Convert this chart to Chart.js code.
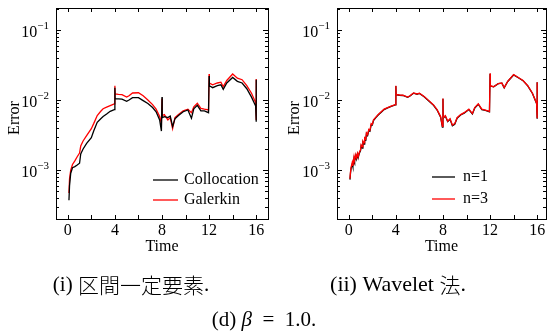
<!DOCTYPE html>
<html>
<head>
<meta charset="utf-8">
<script src="https://cdn.jsdelivr.net/npm/chart.js@4.4.1/dist/chart.umd.min.js"></script>
<style>
  body { margin: 0; background: #fff; width: 547px; height: 336px; position: relative; overflow: hidden; }
  canvas { position: absolute; }
</style>
</head>
<body>
<canvas id="left" width="275" height="260" style="left:0; top:0"></canvas>
<canvas id="right" width="267" height="260" style="left:280px; top:0"></canvas>
<canvas id="captions" width="547" height="76" style="left:0; top:260px"></canvas>
<script>
// x tick labels and y decades
const xTicks = [0, 4, 8, 12, 16];
const xMinor = [0, 2, 4, 6, 8, 10, 12, 14, 16];
const yDecades = [-4, -3, -2, -1];

// (i) piecewise-constant elements
const timeA = [0.1, 0.15, 0.25, 0.4, 0.6, 0.8, 1.0, 1.1, 1.3, 1.6, 2.0, 2.2, 2.5, 2.8, 3.0, 3.3, 3.6, 3.95,
  4.0, 4.02, 4.3, 4.6, 5.0, 5.2, 5.5, 6.0, 6.4, 6.8, 7.2, 7.5, 7.8, 7.95,
  8.0, 8.02, 8.2, 8.5, 8.7, 8.9, 9.1, 9.4, 9.8, 10.2, 10.5, 10.7, 11.0, 11.3, 11.6, 11.95,
  12.0, 12.02, 12.3, 12.7, 13.0, 13.2, 13.5, 14.0, 14.4, 14.8, 15.2, 15.6, 15.95, 16.0, 16.0];
const collocation = [3.7e-4, 6.0e-4, 9.0e-4, 1.08e-3, 1.12e-3, 1.18e-3, 1.25e-3, 1.7e-3, 2.0e-3, 2.4e-3, 2.9e-3, 3.6e-3, 4.8e-3, 5.4e-3, 5.8e-3, 6.3e-3, 6.9e-3, 7.3e-3,
  1.5e-2, 1.05e-2, 1.04e-2, 1.03e-2, 9.6e-3, 1.0e-2, 1.08e-2, 1.08e-2, 9.8e-3, 8.9e-3, 7.8e-3, 6.8e-3, 5.2e-3, 3.6e-3,
  1.1e-2, 5.6e-3, 5.8e-3, 5.6e-3, 5.9e-3, 4.2e-3, 5.4e-3, 6.0e-3, 6.8e-3, 7.2e-3, 5.5e-3, 7.5e-3, 8.4e-3, 7.0e-3, 7.0e-3, 6.6e-3,
  2.2e-2, 1.6e-2, 1.5e-2, 1.6e-2, 1.65e-2, 1.42e-2, 1.75e-2, 2.1e-2, 1.85e-2, 1.75e-2, 1.45e-2, 1.1e-2, 8.2e-3, 4.9e-3, 1.95e-2];
const galerkin = [4.7e-4, 7.5e-4, 1.0e-3, 1.2e-3, 1.35e-3, 1.55e-3, 1.75e-3, 2.2e-3, 2.6e-3, 3.1e-3, 3.9e-3, 4.6e-3, 6.0e-3, 6.9e-3, 7.5e-3, 7.9e-3, 8.3e-3, 8.8e-3,
  1.6e-2, 1.22e-2, 1.2e-2, 1.19e-2, 1.1e-2, 1.15e-2, 1.26e-2, 1.27e-2, 1.15e-2, 1.0e-2, 8.6e-3, 7.4e-3, 5.8e-3, 4.6e-3,
  1.05e-2, 6.0e-3, 6.2e-3, 5.2e-3, 5.6e-3, 3.9e-3, 5.6e-3, 6.2e-3, 7.0e-3, 7.4e-3, 6.6e-3, 8.0e-3, 9.0e-3, 7.6e-3, 7.4e-3, 7.2e-3,
  2.35e-2, 1.75e-2, 1.65e-2, 1.75e-2, 1.8e-2, 1.55e-2, 1.9e-2, 2.35e-2, 2.05e-2, 1.95e-2, 1.6e-2, 1.25e-2, 9.2e-3, 5.2e-3, 2.0e-2];

// (ii) wavelet method
const timeB = [0.1, 0.15, 0.2, 0.3, 0.35, 0.45, 0.5, 0.6, 0.65, 0.75, 0.8, 0.9, 1.0, 1.05, 1.15, 1.2, 1.3, 1.35, 1.45, 1.5,
  1.6, 1.7, 1.8, 1.9, 2.0, 2.1, 2.3, 2.5, 2.8, 3.0, 3.3, 3.6, 3.95,
  4.0, 4.02, 4.3, 4.6, 5.0, 5.2, 5.5, 5.8, 6.0, 6.4, 6.8, 7.2, 7.5, 7.8, 7.95,
  8.0, 8.02, 8.2, 8.4, 8.6, 8.8, 9.0, 9.2, 9.5, 9.8, 10.2, 10.5, 10.7, 11.0, 11.3, 11.6, 11.95,
  12.0, 12.02, 12.3, 12.7, 13.0, 13.2, 13.5, 14.0, 14.4, 14.8, 15.2, 15.6, 15.95, 16.0, 16.0];
const n1 = [7.3e-4, 9.2e-4, 1.06e-3, 1.22e-3, 1.12e-3, 1.48e-3, 1.36e-3, 1.6e-3, 1.44e-3, 1.68e-3, 1.5e-3, 1.74e-3, 1.9e-3, 2.2e-3, 2.05e-3, 2.5e-3, 2.35e-3, 2.8e-3, 2.7e-3, 3.3e-3,
  3.1e-3, 3.7e-3, 3.6e-3, 4.4e-3, 4.4e-3, 5.1e-3, 5.6e-3, 6.1e-3, 6.8e-3, 7.3e-3, 7.7e-3, 8.1e-3, 8.5e-3,
  1.58e-2, 1.19e-2, 1.17e-2, 1.16e-2, 1.09e-2, 1.14e-2, 1.25e-2, 1.21e-2, 1.24e-2, 1.11e-2, 9.7e-3, 8.4e-3, 7.2e-3, 5.7e-3, 4.1e-3,
  1.04e-2, 5.5e-3, 5.9e-3, 4.9e-3, 5.3e-3, 4.3e-3, 4.5e-3, 5.5e-3, 6.1e-3, 6.5e-3, 7.3e-3, 6.3e-3, 7.7e-3, 8.7e-3, 7.3e-3, 7.1e-3, 6.8e-3,
  2.38e-2, 1.58e-2, 1.54e-2, 1.71e-2, 1.74e-2, 1.49e-2, 1.84e-2, 2.28e-2, 2.08e-2, 1.89e-2, 1.59e-2, 1.24e-2, 8.9e-3, 5.4e-3, 1.8e-2];
const n3 = [7.5e-4, 9.5e-4, 1.1e-3, 1.3e-3, 1.15e-3, 1.55e-3, 1.4e-3, 1.65e-3, 1.5e-3, 1.72e-3, 1.55e-3, 1.8e-3, 1.95e-3, 2.3e-3, 2.15e-3, 2.6e-3, 2.45e-3, 2.9e-3, 2.8e-3, 3.4e-3,
  3.2e-3, 3.8e-3, 3.7e-3, 4.6e-3, 4.5e-3, 5.2e-3, 5.7e-3, 6.2e-3, 6.9e-3, 7.4e-3, 7.8e-3, 8.2e-3, 8.6e-3,
  1.6e-2, 1.2e-2, 1.18e-2, 1.17e-2, 1.1e-2, 1.15e-2, 1.26e-2, 1.22e-2, 1.25e-2, 1.12e-2, 9.8e-3, 8.5e-3, 7.3e-3, 5.8e-3, 4.2e-3,
  1.05e-2, 5.6e-3, 6.0e-3, 5.0e-3, 5.4e-3, 4.4e-3, 4.6e-3, 5.6e-3, 6.2e-3, 6.6e-3, 7.4e-3, 6.4e-3, 7.8e-3, 8.8e-3, 7.4e-3, 7.2e-3, 6.9e-3,
  2.4e-2, 1.6e-2, 1.55e-2, 1.72e-2, 1.75e-2, 1.5e-2, 1.85e-2, 2.3e-2, 2.1e-2, 1.9e-2, 1.6e-2, 1.25e-2, 9.0e-3, 5.5e-3, 1.8e-2];

const SERIF = '"Liberation Serif", "Times New Roman", serif';
const CJK = '"Noto Sans CJK JP", sans-serif';

function pts(t, v) {
  return t.map((x, i) => ({ x: x, y: v[i] }));
}

// frame, inward ticks, tick labels, axis titles and legend
const framePlugin = {
  id: 'frame',
  afterDraw(chart) {
    const ctx = chart.ctx;
    const a = chart.chartArea;
    const xs = chart.scales.x, ys = chart.scales.y;
    ctx.save();
    ctx.strokeStyle = '#000';
    ctx.lineWidth = 1;
    ctx.strokeRect(Math.round(a.left) + 0.5, Math.round(a.top) + 0.5, Math.round(a.right - a.left), Math.round(a.bottom - a.top));

    ctx.beginPath();
    xMinor.forEach(v => {
      const px = Math.round(xs.getPixelForValue(v)) + 0.5;
      if (px > a.right) return;
      ctx.moveTo(px, a.bottom); ctx.lineTo(px, a.bottom - 4);
      ctx.moveTo(px, a.top); ctx.lineTo(px, a.top + 4);
    });
    yDecades.forEach(k => {
      for (let m = 1; m <= 9; m++) {
        const v = m * Math.pow(10, k);
        if (v < ys.min || v > ys.max) continue;
        const py = Math.round(ys.getPixelForValue(v)) + 0.5;
        const len = m === 1 ? 5 : 3;
        ctx.moveTo(a.left, py); ctx.lineTo(a.left + len, py);
        ctx.moveTo(a.right, py); ctx.lineTo(a.right - len, py);
      }
    });
    ctx.stroke();

    ctx.fillStyle = '#000';
    ctx.font = '16px ' + SERIF;
    ctx.textAlign = 'center';
    ctx.textBaseline = 'middle';
    xTicks.forEach(v => ctx.fillText(String(v), xs.getPixelForValue(v), 231));
    ctx.fillText('Time', (a.left + a.right) / 2, 247);

    yDecades.forEach(k => {
      const v = Math.pow(10, k);
      if (v < ys.min || v > ys.max) return;
      const py = ys.getPixelForValue(v);
      ctx.font = '11px ' + SERIF;
      ctx.textAlign = 'right';
      const sup = '\u2212' + (-k);
      const sw = ctx.measureText(sup).width;
      const xr = a.left - 7;
      ctx.fillText(sup, xr, py - 4);
      ctx.font = '16px ' + SERIF;
      ctx.fillText('10', xr - sw, py + 3);
    });

    ctx.save();
    ctx.translate(15, 118);
    ctx.rotate(-Math.PI / 2);
    ctx.textAlign = 'center';
    ctx.font = '16px ' + SERIF;
    ctx.fillText('Error', 0, 0);
    ctx.restore();

    const lg = chart.options.plugins.frame;
    ctx.font = '16px ' + SERIF;
    ctx.textAlign = 'left';
    chart.data.datasets.forEach((d, i) => {
      const y = lg.y[i];
      ctx.strokeStyle = d.borderColor;
      ctx.lineWidth = 1.3;
      ctx.beginPath();
      ctx.moveTo(lg.x0, y); ctx.lineTo(lg.x1, y);
      ctx.stroke();
      ctx.fillText(d.label, lg.tx, y);
    });
    ctx.restore();
  }
};

function makeChart(id, t, series, pad, xMax, legend) {
  new Chart(document.getElementById(id), {
    type: 'line',
    data: {
      datasets: series.map(s => ({
        label: s.label,
        data: pts(t, s.values),
        borderColor: s.color,
        borderWidth: 1.3,
        pointRadius: 0,
        tension: 0,
        fill: false,
        order: s.order
      }))
    },
    options: {
      responsive: false,
      animation: false,
      layout: { padding: pad },
      scales: {
        x: { type: 'linear', min: -1, max: xMax, display: false },
        y: { type: 'logarithmic', min: 2e-4, max: 0.206, display: false }
      },
      plugins: {
        legend: { display: false },
        tooltip: { enabled: false },
        frame: legend
      }
    },
    plugins: [framePlugin]
  });
}

makeChart('left', timeA, [
  { label: 'Collocation', values: collocation, color: '#000', order: 0 },
  { label: 'Galerkin', values: galerkin, color: '#ff0000', order: 1 }
], { left: 56, top: 8, right: 7, bottom: 41 }, 17, { x0: 153, x1: 178, tx: 184, y: [180, 200] });

makeChart('right', timeB, [
  { label: 'n=1', values: n1, color: '#000', order: 1 },
  { label: 'n=3', values: n3, color: '#ff0000', order: 0 }
], { left: 57, top: 8, right: 1, bottom: 41 }, 16.75, { x0: 152, x1: 175, tx: 183, y: [177, 199] });

// sub-figure captions, mixed Latin / CJK runs
function caption(ctx, runs, cx, cy) {
  let w = 0;
  runs.forEach(r => { ctx.font = r.font; w += ctx.measureText(r.text).width; });
  let x = cx - w / 2;
  runs.forEach(r => {
    ctx.font = r.font;
    ctx.fillText(r.text, x, cy);
    x += ctx.measureText(r.text).width;
  });
}
const cap = document.getElementById('captions').getContext('2d');
cap.fillStyle = '#000';
cap.textBaseline = 'middle';
cap.textAlign = 'left';
caption(cap, [
  { text: '(i) ', font: '21px ' + SERIF },
  { text: '区間一定要素', font: '300 21px ' + CJK },
  { text: '.', font: '21px ' + SERIF }
], 131, 25);
caption(cap, [
  { text: '(ii) Wavelet ', font: '22px ' + SERIF },
  { text: '法', font: '300 21px ' + CJK },
  { text: '.', font: '22px ' + SERIF }
], 398, 25);
caption(cap, [
  { text: '(d) ', font: '21px ' + SERIF },
  { text: 'β', font: 'italic 21px ' + SERIF },
  { text: '  =  1.0.', font: '21px ' + SERIF }
], 264, 60);
</script>
</body>
</html>
